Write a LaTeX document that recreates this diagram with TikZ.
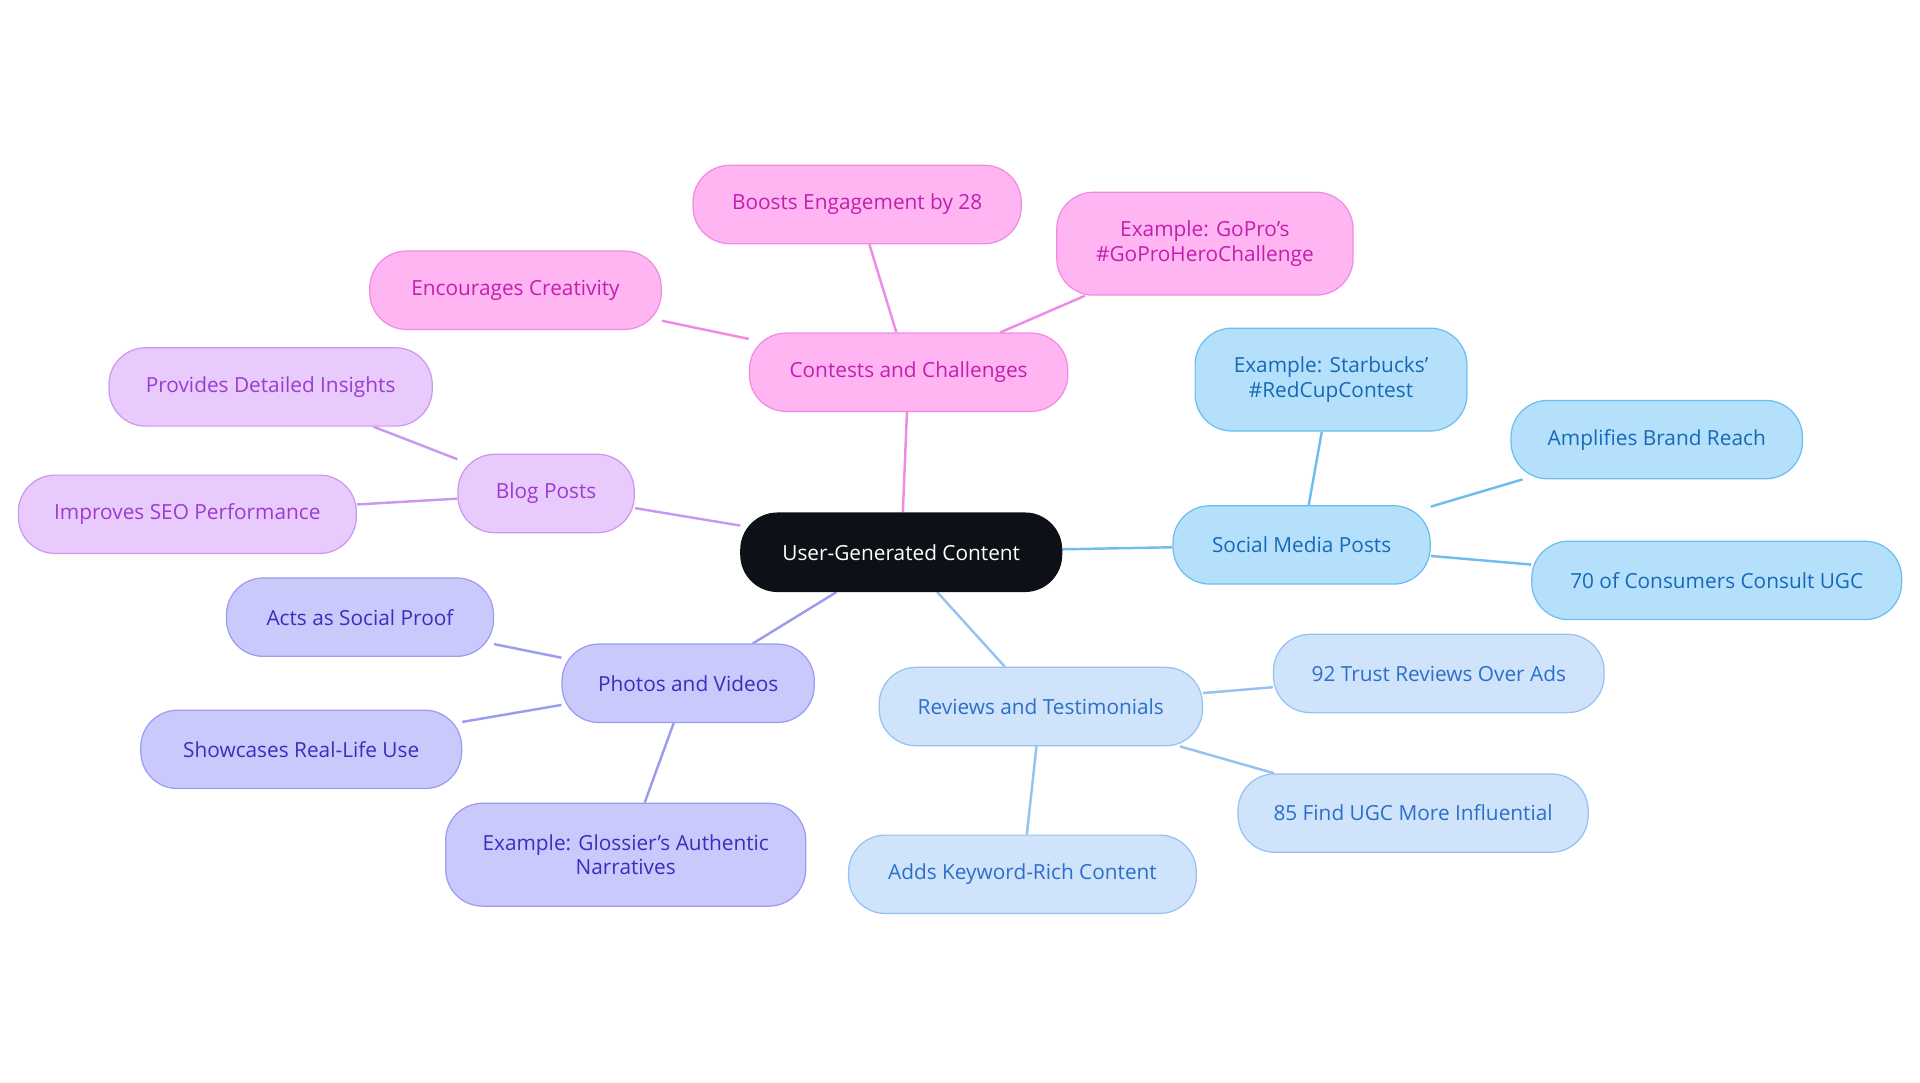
\documentclass[tikz,border=0pt]{standalone}
\usepackage{fontspec}
\setmainfont{Open Sans}
\usetikzlibrary{backgrounds}
\definecolor{cfill}{HTML}{0D1117}
\definecolor{pkF}{HTML}{FFB5F2}\definecolor{pkD}{HTML}{F08AE4}\definecolor{pkT}{HTML}{C21FAE}
\definecolor{skF}{HTML}{B5E0FC}\definecolor{skD}{HTML}{6DBDEF}\definecolor{skT}{HTML}{1769B5}
\definecolor{lbF}{HTML}{CFE3FB}\definecolor{lbD}{HTML}{95C2F1}\definecolor{lbT}{HTML}{2C6FCB}
\definecolor{inF}{HTML}{C9C9FC}\definecolor{inD}{HTML}{9C9CEF}\definecolor{inT}{HTML}{3B2EBE}
\definecolor{puF}{HTML}{E9CAFC}\definecolor{puD}{HTML}{CB98EF}\definecolor{puT}{HTML}{9B3CCF}
\tikzset{
 box/.style={rounded corners=30pt,minimum height=64pt,align=center,font=\fontsize{17}{20}\selectfont,inner sep=2pt,line width=1pt},
 pk/.style={box,fill=pkF,draw=pkD,text=pkT},
 sk/.style={box,fill=skF,draw=skD,text=skT},
 lb/.style={box,fill=lbF,draw=lbD,text=lbT},
 ind/.style={box,fill=inF,draw=inD,text=inT},
 pu/.style={box,fill=puF,draw=puD,text=puT},
 pke/.style={draw=pkD,line width=2pt},
 ske/.style={draw=skD,line width=2pt},
 lbe/.style={draw=lbD,line width=2pt},
 ine/.style={draw=inD,line width=2pt},
 pue/.style={draw=puD,line width=2pt},
}
\begin{document}
\begin{tikzpicture}[x=1pt,y=-1pt]
\useasboundingbox (0,0) rectangle (1568,884);
\node[box,fill=cfill,draw=cfill,text=white,minimum width=262pt] (c) at (736,451) {User-Generated Content};
\node[pk,minimum width=260pt] (ct) at (742,304) {Contests and Challenges};
\node[pk,minimum width=268pt] (bo) at (700,167) {Boosts Engagement by 28};
\node[pk,minimum width=242pt,minimum height=84pt] (gp) at (984,199) {Example: GoPro's\\\#GoProHeroChallenge};
\node[pk,minimum width=238pt] (en) at (421,237) {Encourages Creativity};
\node[sk,minimum width=210pt] (sm) at (1063,445) {Social Media Posts};
\node[sk,minimum width=222pt,minimum height=84pt] (sb) at (1087,310) {Example: Starbucks'\\\#RedCupContest};
\node[sk,minimum width=238pt] (am) at (1353,359) {Amplifies Brand Reach};
\node[sk,minimum width=302pt] (sv) at (1402,474) {70 of Consumers Consult UGC};
\node[lb,minimum width=264pt] (rv) at (850,577) {Reviews and Testimonials};
\node[lb,minimum width=270pt] (nt) at (1175,550) {92 Trust Reviews Over Ads};
\node[lb,minimum width=286pt] (ef) at (1154,664) {85 Find UGC More Influential};
\node[lb,minimum width=284pt] (ad) at (835,714) {Adds Keyword-Rich Content};
\node[ind,minimum width=206pt] (ph) at (562,558) {Photos and Videos};
\node[ind,minimum width=218pt] (ac) at (294,504) {Acts as Social Proof};
\node[ind,minimum width=262pt] (sh) at (246,612) {Showcases Real-Life Use};
\node[ind,minimum width=294pt,minimum height=84pt] (gl) at (511,698) {Example: Glossier's Authentic\\Narratives};
\node[pu,minimum width=144pt] (bl) at (446,403) {Blog Posts};
\node[pu,minimum width=264pt] (pr) at (221,316) {Provides Detailed Insights};
\node[pu,minimum width=276pt] (im) at (153,420) {Improves SEO Performance};
\begin{scope}[on background layer]
\draw[pke] (c)--(ct); \draw[pke] (ct)--(bo); \draw[pke] (ct)--(gp); \draw[pke] (ct)--(en);
\draw[ske] (c)--(sm); \draw[ske] (sm)--(sb); \draw[ske] (sm)--(am); \draw[ske] (sm)--(sv);
\draw[lbe] (c)--(rv); \draw[lbe] (rv)--(nt); \draw[lbe] (rv)--(ef); \draw[lbe] (rv)--(ad);
\draw[ine] (c)--(ph); \draw[ine] (ph)--(ac); \draw[ine] (ph)--(sh); \draw[ine] (ph)--(gl);
\draw[pue] (c)--(bl); \draw[pue] (bl)--(pr); \draw[pue] (bl)--(im);
\end{scope}
\end{tikzpicture}
\end{document}
